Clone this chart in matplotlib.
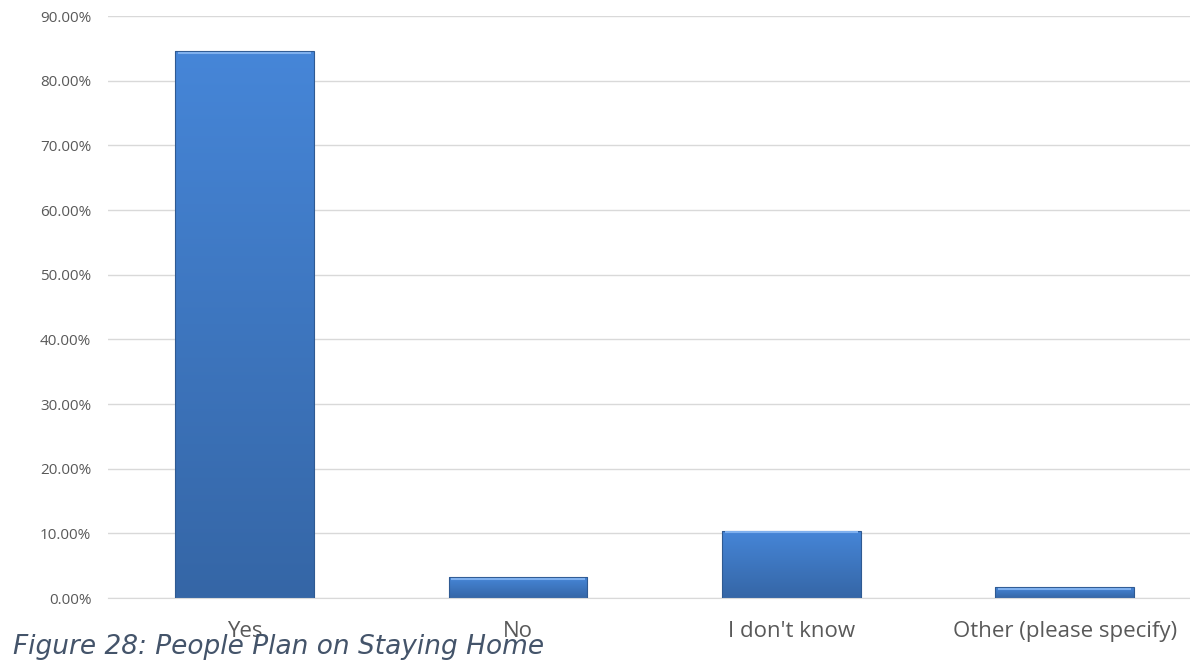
import numpy as np
import matplotlib.pyplot as plt
from matplotlib.colors import LinearSegmentedColormap
from matplotlib.ticker import FuncFormatter

categories = ["Yes", "No", "I don't know", "Other (please specify)"]
values = [84.6, 3.2, 10.4, 1.7]
y_ticks = [0, 10, 20, 30, 40, 50, 60, 70, 80, 90]
caption = "Figure 28: People Plan on Staying Home"

fig = plt.figure(figsize=(11.9, 6.62), dpi=100)
ax = fig.add_axes([108 / 1190, 64 / 662, 1088 / 1190, 582 / 662])

x = np.arange(len(categories))
bars = ax.bar(x, values, width=0.507, color='none', edgecolor='#2f5a92',
              linewidth=0.8, zorder=3)

# vertical gradient fill, lighter at top
grad_cmap = LinearSegmentedColormap.from_list('bar', ['#3566a6', '#4686d8'])
grad = np.linspace(0, 1, 256).reshape(-1, 1)
for b in bars:
    x0, y0 = b.get_x(), b.get_y()
    w, h = b.get_width(), b.get_height()
    im = ax.imshow(grad, cmap=grad_cmap, origin='lower', aspect='auto',
                   extent=(x0, x0 + w, y0, y0 + h), zorder=2)
    im.set_clip_path(b)
    # light bevel on top edge
    ax.plot([x0 + 0.01, x0 + w - 0.01], [y0 + h - 0.25, y0 + h - 0.25],
            color='#7fb0ee', linewidth=1.5, zorder=4, solid_capstyle='butt')

ax.set_xlim(-0.5, 3.48)
ax.set_ylim(0, 90)
ax.set_yticks(y_ticks)
ax.yaxis.set_major_formatter(FuncFormatter(lambda v, p: f"{v:.2f}%"))
ax.set_xticks(x)
ax.set_xticklabels(categories)

ax.grid(axis='y', color='#d9d9d9', linewidth=1, zorder=0)
ax.set_axisbelow(True)
for s in ['top', 'right', 'left']:
    ax.spines[s].set_visible(False)
ax.spines['bottom'].set_color('#d9d9d9')
ax.tick_params(axis='both', length=0)
ax.tick_params(axis='y', labelsize=11, labelcolor='#595959', pad=12)
ax.tick_params(axis='x', labelsize=16, labelcolor='#595959', pad=16.5)
for lab in ax.get_yticklabels() + ax.get_xticklabels():
    lab.set_family('Open Sans')

# caption sits under the axis and overlaps the first labels, as in the source
fig.text(13 / 1190, 8 / 662, caption, fontsize=19, style='italic',
         color='#44546a', family='DejaVu Sans', ha='left', va='baseline')

fig.savefig('out.png', dpi=100)
